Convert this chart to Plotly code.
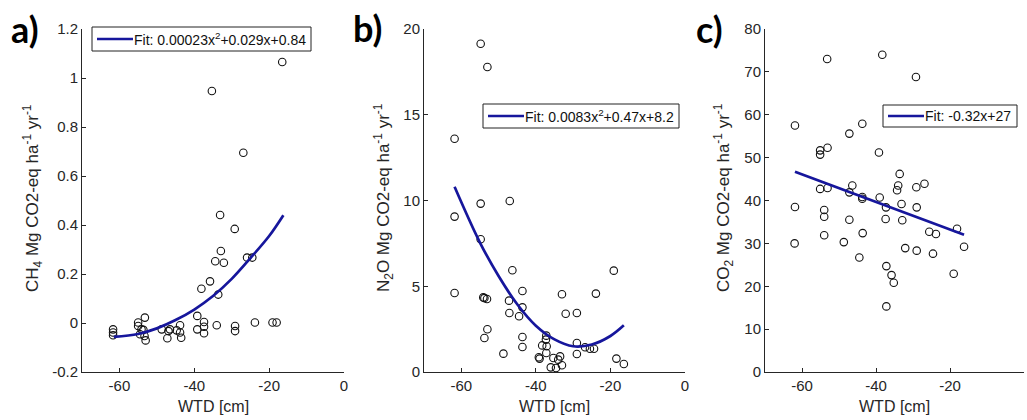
import plotly.graph_objects as go

# ---------------- data ----------------
# Panel a) CH4
ch4_x = [-61.7, -61.7, -61.7, -55.0, -55.0, -54.5, -54.1, -53.6, -53.2, -53.3, -53.0,
         -48.7, -47.2, -46.9, -46.5, -44.7, -43.8, -43.8, -43.5, -39.2, -39.2,
         -37.4, -37.4, -37.4, -34.0, -29.1, -29.1, -23.8, -19.1, -18.0,
         -16.5, -35.3, -26.9, -33.1, -29.2, -32.9, -34.4, -32.1, -25.9, -24.5,
         -35.8, -38.1, -33.6]
ch4_y = [-0.026, -0.039, -0.050, 0.002, -0.012, -0.046, -0.026, -0.028, 0.022, -0.053, -0.071,
         -0.026, -0.062, -0.033, -0.026, -0.030, -0.009, -0.039, -0.060, 0.029, -0.026,
         0.004, -0.015, -0.042, -0.009, -0.012, -0.033, 0.002, 0.002, 0.002,
         1.065, 0.947, 0.695, 0.441, 0.384, 0.294, 0.252, 0.246, 0.267, 0.267,
         0.170, 0.140, 0.116]
ch4_fit_x = [-61.5, -55, -50, -45, -40, -35, -30, -25, -20, -16.2]
ch4_fit_y = [-0.057, -0.045, -0.022, 0.012, 0.055, 0.110, 0.180, 0.265, 0.355, 0.440]

# Panel b) N2O
n2o_x = [-54.8, -53.0, -61.8, -54.8, -47.0, -61.8, -54.8, -46.3, -19.1, -61.8,
         -43.6, -33.0, -23.9, -54.1, -53.8, -53.1, -47.2, -43.6, -47.1, -44.5,
         -32.0, -29.0, -53.0, -53.8, -43.6, -43.6, -37.2, -37.3, -38.3, -37.1,
         -29.0, -26.8, -25.5, -24.4, -48.7, -37.2, -29.0, -39.2, -39.0, -35.3,
         -33.5, -34.0, -33.0, -36.0, -34.6, -18.4, -16.4]
n2o_y = [19.14, 17.78, 13.60, 9.82, 9.97, 9.06, 7.74, 5.93, 5.91, 4.61,
         4.72, 4.53, 4.57, 4.35, 4.31, 4.26, 4.16, 3.77, 3.44, 3.25,
         3.40, 3.44, 2.49, 1.98, 2.04, 1.46, 2.12, 1.89, 1.55, 1.50,
         1.69, 1.44, 1.36, 1.36, 1.07, 1.11, 1.05, 0.86, 0.78, 0.82,
         0.91, 0.72, 0.39, 0.27, 0.23, 0.78, 0.47]
n2o_fit_x = [-61.8, -55, -50, -45, -40, -35, -30, -25, -20, -16.4]
n2o_fit_y = [10.8, 7.55, 5.6, 3.95, 2.7, 1.9, 1.5, 1.6, 2.1, 2.72]

# Panel c) CO2
co2_x = [-38.3, -53.2, -29.2, -61.9, -43.7, -47.2, -55.1, -55.1, -53.1, -39.2,
         -33.6, -26.9, -46.4, -34.0, -34.3, -29.1, -55.1, -53.1, -47.2, -43.7,
         -43.7, -39.0, -33.1, -61.9, -37.3, -29.0, -54.0, -54.0, -37.4, -47.2,
         -32.9, -54.0, -43.6, -25.6, -23.8, -18.1, -62.0, -48.7, -16.2, -32.1,
         -29.0, -24.6, -44.5, -37.2, -35.8, -35.2, -19.0, -37.2]
co2_y = [74.0, 73.0, 68.8, 57.5, 57.9, 55.6, 51.7, 50.7, 52.3, 51.2,
         46.2, 43.9, 43.5, 43.5, 42.4, 43.1, 42.7, 42.9, 41.9, 40.8,
         40.4, 40.7, 39.2, 38.5, 38.4, 38.4, 37.8, 36.2, 35.7, 35.5,
         35.4, 31.9, 32.4, 32.7, 32.2, 33.4, 30.0, 30.3, 29.2, 28.9,
         28.3, 27.6, 26.7, 24.7, 22.6, 20.8, 22.9, 15.3]
co2_fit_x = [-61.9, -16.2]
co2_fit_y = [46.7, 32.0]

# tick labels
x_tickvals = [-60, -40, -20, 0]
x_ticktext = ["-60", "-40", "-20", "0"]
ch4_tickvals = [-0.2, 0, 0.2, 0.4, 0.6, 0.8, 1.0, 1.2]
ch4_ticktext = ["-0.2", "0", "0.2", "0.4", "0.6", "0.8", "1", "1.2"]
n2o_tickvals = [0, 5, 10, 15, 20]
n2o_ticktext = ["0", "5", "10", "15", "20"]
co2_tickvals = [0, 10, 20, 30, 40, 50, 60, 70, 80]
co2_ticktext = ["0", "10", "20", "30", "40", "50", "60", "70", "80"]

fit_labels = ["Fit: 0.00023x<sup>2</sup>+0.029x+0.84",
              "Fit: 0.0083x<sup>2</sup>+0.47x+8.2",
              "Fit: -0.32x+27"]
y_titles = ["CH<sub>4</sub> Mg CO2-eq ha<sup>-1</sup> yr<sup>-1</sup>",
            "N<sub>2</sub>O Mg CO2-eq ha<sup>-1</sup> yr<sup>-1</sup>",
            "CO<sub>2</sub> Mg CO2-eq ha<sup>-1</sup> yr<sup>-1</sup>"]
panel_labels = ["a)", "b)", "c)"]
x_title = "WTD [cm]"

# ---------------- figure ----------------
W, H = 1027, 420
FONT = "Liberation Sans, Arial, sans-serif"
TXT = "#262626"
LINE = "#16169c"

fig = go.Figure()

xdom = [[82 / W, 344 / W], [424 / W, 685 / W], [765 / W, 1024 / W]]
ydom = [(H - 372) / H, (H - 29) / H]
yranges = [[-0.2, 1.2], [0, 20], [0, 80]]
ytv = [ch4_tickvals, n2o_tickvals, co2_tickvals]
ytt = [ch4_ticktext, n2o_ticktext, co2_ticktext]
pts = [(ch4_x, ch4_y), (n2o_x, n2o_y), (co2_x, co2_y)]
fits = [(ch4_fit_x, ch4_fit_y), (n2o_fit_x, n2o_fit_y), (co2_fit_x, co2_fit_y)]
# legend boxes (pixel positions of the boxes: left, top, right, bottom)
legbox = [(92, 27, 311, 51), (483, 104, 679, 128), (883, 105, 1017, 127)]

def px(x):
    return x / W

def py(y):
    return 1 - y / H

for i in range(3):
    xa = "x" if i == 0 else f"x{i+1}"
    ya = "y" if i == 0 else f"y{i+1}"
    fig.add_trace(go.Scatter(
        x=pts[i][0], y=pts[i][1], mode="markers", xaxis=xa, yaxis=ya,
        marker=dict(symbol="circle-open", size=7.5, color="#111111", line=dict(width=1.1)),
        showlegend=False, hoverinfo="x+y"))
    fig.add_trace(go.Scatter(
        x=fits[i][0], y=fits[i][1], mode="lines", xaxis=xa, yaxis=ya,
        line=dict(color=LINE, width=2.7, shape="spline"),
        name=fit_labels[i], showlegend=False))

    axis_common = dict(showline=True, linecolor=TXT, linewidth=1, showgrid=False,
                       zeroline=False, ticks="inside", ticklen=4, tickcolor=TXT,
                       tickfont=dict(family=FONT, size=15, color=TXT), automargin=False)
    xkey = "xaxis" if i == 0 else f"xaxis{i+1}"
    ykey = "yaxis" if i == 0 else f"yaxis{i+1}"
    fig.update_layout(**{
        xkey: dict(domain=xdom[i], range=[-70, 0], tickvals=x_tickvals, ticktext=x_ticktext,
                   anchor=ya, **axis_common),
        ykey: dict(domain=ydom, range=yranges[i], tickvals=ytv[i], ticktext=ytt[i],
                   anchor=xa, **axis_common),
    })

    # legend box (drawn by hand so its size matches the reference)
    l, t, r, b = legbox[i]
    ym = (t + b) / 2
    fig.add_shape(type="rect", xref="paper", yref="paper",
                  x0=px(l), x1=px(r), y0=py(b), y1=py(t),
                  line=dict(color="#222222", width=1), fillcolor="white", layer="above")
    fig.add_shape(type="line", xref="paper", yref="paper",
                  x0=px(l + 5), x1=px(l + 41), y0=py(ym), y1=py(ym),
                  line=dict(color=LINE, width=2.7), layer="above")
    fig.add_annotation(x=px(l + 41), y=py(ym), xref="paper", yref="paper",
                       text=fit_labels[i], showarrow=False, xanchor="left", yanchor="middle",
                       borderpad=0, font=dict(family=FONT, size=14, color="#111111"))

    xc = (xdom[i][0] + xdom[i][1]) / 2
    fig.add_annotation(x=xc, y=py(406), xref="paper", yref="paper", text=x_title,
                       showarrow=False, xanchor="center", yanchor="middle",
                       font=dict(family=FONT, size=16, color=TXT))

ytitle_x = [32, 383, 723]
for i in range(3):
    fig.add_annotation(x=px(ytitle_x[i]), y=py(198), xref="paper", yref="paper",
                       text=y_titles[i], textangle=-90, showarrow=False,
                       xanchor="center", yanchor="middle",
                       font=dict(family=FONT, size=17, color=TXT))

label_pos = [(9, 29), (351, 28), (694, 29)]
for i in range(3):
    fig.add_annotation(x=px(label_pos[i][0]), y=py(label_pos[i][1]), xref="paper", yref="paper",
                       text=f"<b>{panel_labels[i]}</b>", showarrow=False,
                       xanchor="left", yanchor="middle",
                       font=dict(family="Lato, Open Sans, sans-serif", size=36, color="#000000"))

fig.update_layout(width=W, height=H, margin=dict(l=0, r=0, t=0, b=0),
                  paper_bgcolor="white", plot_bgcolor="white")

fig.write_html("out.html", config={"displayModeBar": False},
               post_script="document.body.style.margin='0';document.body.style.overflow='hidden';")
